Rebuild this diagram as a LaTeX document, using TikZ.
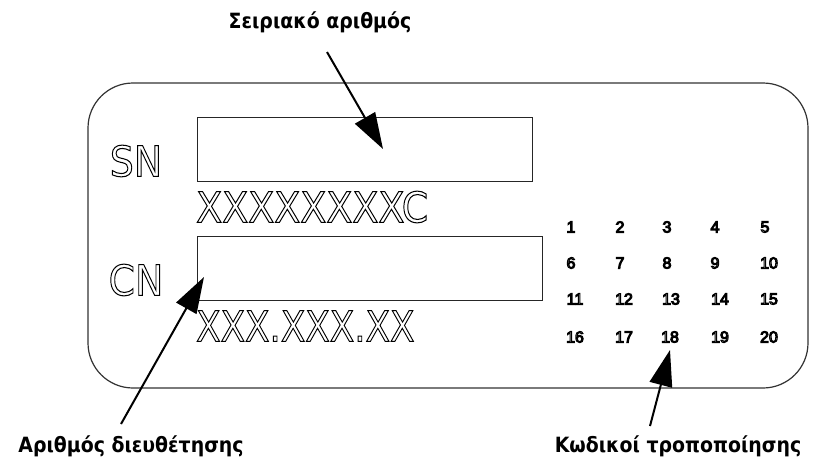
\documentclass[tikz,border=0pt]{standalone}
\usepackage{fontspec}
\setmainfont{Liberation Sans}
\newfontfamily\platefont{DejaVu Sans}
\usetikzlibrary{arrows.meta, positioning}
\newcommand{\hollow}[1]{\special{pdf:literal direct 1 Tr 1.05 w}#1\special{pdf:literal direct 0 Tr}}
\tikzstyle{plate}=[draw=black!80, line width=1.2pt, rounded corners=45pt]
\tikzstyle{field}=[draw=black!85, line width=1.3pt, inner sep=0pt, anchor=north west]
\tikzstyle{tag}=[font=\platefont\fontsize{42}{42}\selectfont, inner sep=0pt, xscale=0.9, transform shape]
\tikzstyle{code}=[font=\platefont\fontsize{42}{42}\selectfont, inner sep=0pt, anchor=west, transform shape]
\tikzstyle{num}=[font=\fontsize{16}{16}\selectfont, inner sep=0pt]
\tikzstyle{caption}=[font=\platefont\bfseries\fontsize{21}{21}\selectfont, inner sep=0pt, anchor=base, xscale=0.9, transform shape]
\tikzstyle{pointer}=[line width=2pt, -{Triangle[length=36pt,width=23pt]}]

\begin{document}
\begin{tikzpicture}[x=1pt, y=-1pt]
  \useasboundingbox (0,0) rectangle (817,461);
  \draw[plate] (88,83) rectangle (808,388);
  \node[field, minimum width=335pt, minimum height=64pt] (snbox) at (197,117) {};
  \node[field, minimum width=345pt, minimum height=64pt] (cnbox) at (197,236) {};
  \node[tag] (sn) at (136,161) {\hollow{SN}};
  \node[tag] (cn) at (136,280) {\hollow{CN}};
  \node[code, xscale=0.905] (sncode) at (196,207) {\hollow{XXXXXXXXC}};
  \node[code, xscale=0.85] (cncode) at (196,326) {\hollow{XXX.XXX.XX}};
  % modification code grid
  \node[num] (m1) at (571,227) {\hollow{1}};
  \node[num] (m2) at (620,227) {\hollow{2}};
  \node[num] (m3) at (667,227) {\hollow{3}};
  \node[num] (m4) at (715,227) {\hollow{4}};
  \node[num] (m5) at (765,227) {\hollow{5}};
  \node[num] (m6) at (571,263) {\hollow{6}};
  \node[num] (m7) at (620,263) {\hollow{7}};
  \node[num] (m8) at (667,263) {\hollow{8}};
  \node[num] (m9) at (715,263) {\hollow{9}};
  \node[num] (m10) at (769,263) {\hollow{10}};
  \node[num] (m11) at (575,299) {\hollow{11}};
  \node[num] (m12) at (624,299) {\hollow{12}};
  \node[num] (m13) at (671,299) {\hollow{13}};
  \node[num] (m14) at (720,299) {\hollow{14}};
  \node[num] (m15) at (769,299) {\hollow{15}};
  \node[num] (m16) at (575,337) {\hollow{16}};
  \node[num] (m17) at (624,337) {\hollow{17}};
  \node[num] (m18) at (670,337) {\hollow{18}};
  \node[num] (m19) at (720,337) {\hollow{19}};
  \node[num] (m20) at (769,337) {\hollow{20}};
  % captions
  \node[caption] (serial) at (320,28) {Σειριακό αριθμός};
  \node[caption] (config) at (131,452) {Αριθμός διευθέτησης};
  \node[caption] (mods) at (678,452) {Κωδικοί τροποποίησης};
  \coordinate (snTail) at (327,52);
  \coordinate (snTip) at (383,149);
  \coordinate (cnTail) at (121,424);
  \coordinate (cnTip) at (204,277);
  \coordinate (modTail) at (650,426);
  \coordinate (modTip) at (670,350);
  \draw[pointer] (snTail) -- (snTip);
  \draw[pointer] (cnTail) -- (cnTip);
  \draw[pointer] (modTail) -- (modTip);
\end{tikzpicture}
\end{document}
